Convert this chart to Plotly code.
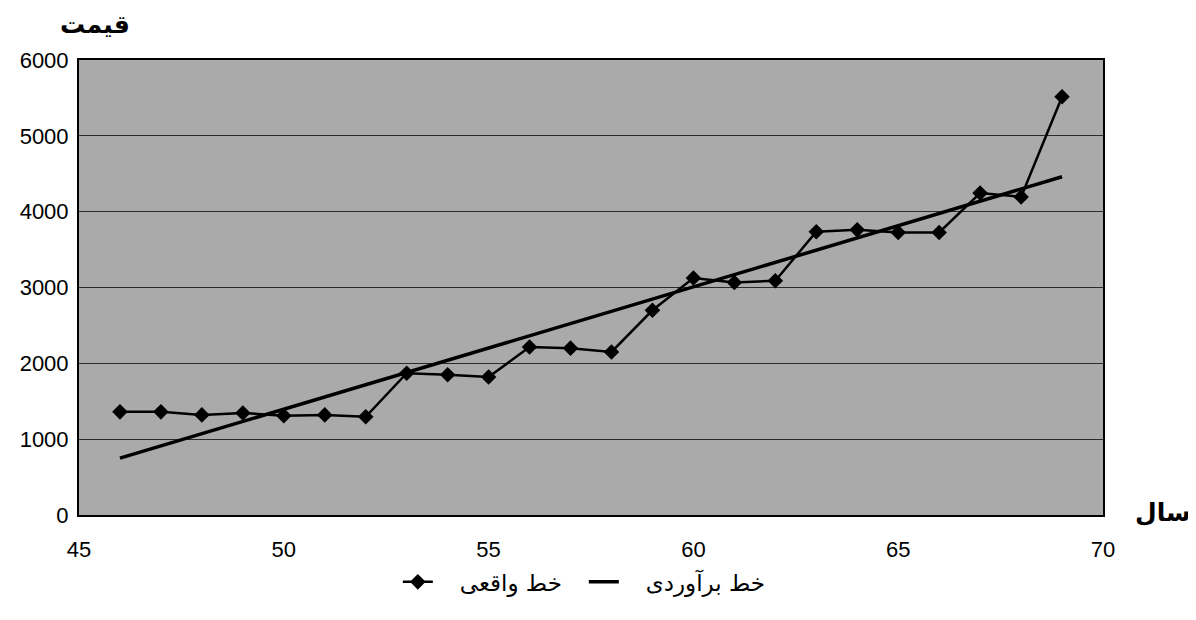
import plotly.graph_objects as go

years = [46, 47, 48, 49, 50, 51, 52, 53, 54, 55, 56, 57, 58, 59, 60, 61, 62, 63, 64, 65, 66, 67, 68, 69]
actual = [1360, 1360, 1320, 1345, 1310, 1320, 1295, 1870, 1850, 1820, 2215, 2200, 2150, 2700, 3125, 3065, 3090, 3735, 3760, 3725, 3725, 4245, 4195, 5515]
trend_years = [46, 69]
trend_values = [750, 4460]

x_ticks = [45, 50, 55, 60, 65, 70]
y_ticks = [0, 1000, 2000, 3000, 4000, 5000, 6000]

FONT = "Liberation Sans, Arial, DejaVu Sans, sans-serif"
PAD = "\u00a0\u00a0\u00a0"

fig = go.Figure()
fig.add_trace(go.Scatter(
    x=years, y=actual, mode="lines+markers", name=PAD + "خط واقعی",
    line=dict(color="black", width=2.5),
    marker=dict(symbol="diamond", size=12, color="black"),
))
fig.add_trace(go.Scatter(
    x=trend_years, y=trend_values, mode="lines", name=PAD + "خط برآوردی",
    line=dict(color="black", width=3.5),
))

fig.update_layout(
    width=1188, height=612, autosize=False,
    margin=dict(l=67, r=93, t=52, b=105),
    paper_bgcolor="white", plot_bgcolor="#aaaaaa",
    font=dict(family=FONT, size=22, color="black"),
    showlegend=True,
    legend=dict(orientation="h", x=0.493, xanchor="center", y=-0.147, yanchor="middle",
                font=dict(size=23, family="DejaVu Sans, Noto Sans, sans-serif"),
                entrywidth=141, entrywidthmode="pixels",
                bgcolor="rgba(0,0,0,0)"),
)
fig.update_xaxes(
    range=[45, 70], tickvals=x_ticks, showgrid=False, zeroline=False,
    showline=True, linecolor="black", linewidth=2, mirror=True,
    ticks="outside", ticklen=14, tickcolor="rgba(0,0,0,0)",
    tickfont=dict(size=22),
)
fig.update_yaxes(
    range=[0, 6000], tickvals=y_ticks, showgrid=True, gridcolor="#2a2a2a", gridwidth=1,
    zeroline=False, showline=True, linecolor="black", linewidth=2, mirror=True,
    ticks="outside", ticklen=4, tickcolor="rgba(0,0,0,0)",
    tickfont=dict(size=22),
)

fig.add_annotation(text="<b>قیمت</b>", xref="paper", yref="paper", x=0.016, y=1.0,
                   yshift=36, xanchor="center", yanchor="middle", showarrow=False,
                   font=dict(size=25, family="DejaVu Sans, Noto Sans"))
fig.add_annotation(text="<b>سال</b>", xref="paper", yref="paper", x=1.0, y=0.0,
                   xshift=30, yshift=3, xanchor="left", yanchor="middle", showarrow=False,
                   font=dict(size=25, family="DejaVu Sans, Noto Sans"))

fig.write_html("out.html")
